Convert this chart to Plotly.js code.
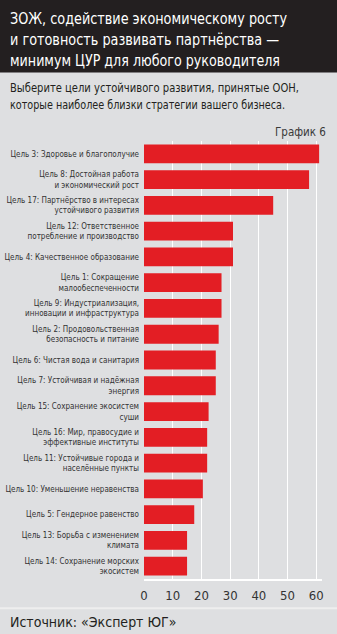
<!DOCTYPE html>
<html>
<head>
<meta charset="utf-8">
<script src="https://cdn.plot.ly/plotly-3.0.1.min.js"></script>
<style>html,body{margin:0;padding:0;background:#dedfe1;}#chart{width:337px;height:634px;}</style>
</head>
<body>
<div id="chart"></div>
<script>
const categories = [
  "Цель 3: Здоровье и благополучие",
  "Цель 8: Достойная работа<br>и экономический рост",
  "Цель 17: Партнёрство в интересах<br>устойчивого развития",
  "Цель 12: Ответственное<br>потребление и производство",
  "Цель 4: Качественное образование",
  "Цель 1: Сокращение<br>малообеспеченности",
  "Цель 9: Индустриализация,<br>инновации и инфраструктура",
  "Цель 2: Продовольственная<br>безопасность и питание",
  "Цель 6: Чистая вода и санитария",
  "Цель 7: Устойчивая и надёжная<br>энергия",
  "Цель 15: Сохранение экосистем<br>суши",
  "Цель 16: Мир, правосудие и<br>эффективные институты",
  "Цель 11: Устойчивые города и<br>населённые пункты",
  "Цель 10: Уменьшение неравенства",
  "Цель 5: Гендерное равенство",
  "Цель 13: Борьба с изменением<br>климата",
  "Цель 14: Сохранение морских<br>экосистем"
];
const values = [61, 57.5, 45, 31, 31, 27, 27, 26, 25, 25, 22.5, 22, 22, 20.5, 17.5, 15, 15];
const xTicks = [0, 10, 20, 30, 40, 50, 60];

const titleLines = [
  "ЗОЖ, содействие экономическому росту",
  "и готовность развивать партнёрства —",
  "минимум ЦУР для любого руководителя"
];
const subtitleLines = [
  "Выберите цели устойчивого развития, принятые ООН,",
  "которые наиболее близки стратегии вашего бизнеса."
];
const chartLabel = "График 6";
const sourceText = "Источник: «Эксперт ЮГ»";

const FONT = "'Liberation Sans Narrow', 'DejaVu Sans Condensed', 'Roboto', sans-serif";
const W = 337, H = 634;
const mL = 144, mR = 15.3, mT = 141.4, mB = 54.7;
const pw = W - mL - mR, ph = H - mT - mB;
const px = x => (x - mL) / pw;
const py = y => (H - mB - y) / ph;

// target widths (px) of the condensed header lines, for horizontal fitting
const titleWidths = [277, 269, 270];
const subtitleWidths = [289, 275];

const annotations = [];
const fitWidths = [];
const titleY = [18.5, 39.5, 60.5];
titleLines.forEach((t, i) => {
  annotations.push({
    text: t, xref: 'paper', yref: 'paper', x: px(8), y: py(titleY[i]),
    xanchor: 'left', yanchor: 'middle', showarrow: false,
    font: {family: FONT, size: 16.5, color: '#ffffff'}
  });
  fitWidths.push(titleWidths[i]);
});
const subY = [88.5, 105];
subtitleLines.forEach((t, i) => {
  annotations.push({
    text: t, xref: 'paper', yref: 'paper', x: px(8), y: py(subY[i]),
    xanchor: 'left', yanchor: 'middle', showarrow: false,
    font: {family: FONT, size: 12.2, color: '#231f20'}
  });
  fitWidths.push(subtitleWidths[i]);
});
annotations.push({
  text: chartLabel, xref: 'paper', yref: 'paper', x: px(328), y: py(132),
  xanchor: 'right', yanchor: 'middle', showarrow: false,
  font: {family: FONT, size: 11.5, color: '#3a3a3a'}
});
annotations.push({
  text: sourceText, xref: 'paper', yref: 'paper', x: px(8), y: py(622),
  xanchor: 'left', yanchor: 'middle', showarrow: false,
  font: {family: FONT, size: 14, color: '#231f20'}
});

const shapes = [
  {type: 'rect', xref: 'paper', yref: 'paper', x0: px(0), x1: px(W), y0: py(0), y1: py(73),
   fillcolor: '#231f20', line: {width: 0}, layer: 'below'},
  {type: 'line', xref: 'paper', yref: 'paper', x0: px(0), x1: px(W), y0: py(608.5), y1: py(608.5),
   line: {color: '#eeeeee', width: 2}}
];

const trace = {
  type: 'bar', orientation: 'h',
  x: values, y: categories,
  marker: {color: '#e31e24', line: {width: 0}},
  hoverinfo: 'none'
};

const layout = {
  width: W, height: H,
  margin: {l: mL, r: mR, t: mT, b: mB, pad: 0},
  paper_bgcolor: '#dedfe1', plot_bgcolor: '#dedfe1',
  showlegend: false,
  bargap: 0.27,
  font: {family: FONT, color: '#333333'},
  xaxis: {
    range: [0, 62], tickvals: xTicks, ticktext: xTicks.map(String),
    showgrid: true, gridcolor: '#ffffff', gridwidth: 1,
    zeroline: false, showline: true, linecolor: '#ffffff', linewidth: 1.5,
    ticks: '', ticklabelstandoff: 4,
    tickfont: {family: FONT, size: 13, color: '#333333'},
    fixedrange: true
  },
  yaxis: {
    type: 'category', autorange: 'reversed',
    showgrid: false, zeroline: false, showline: false, ticks: '',
    ticklabelstandoff: 4,
    tickfont: {family: FONT, size: 8, color: '#333333'},
    fixedrange: true
  },
  shapes: shapes,
  annotations: annotations
};

Plotly.newPlot('chart', [trace], layout, {displayModeBar: false, staticPlot: true}).then(gd => {
  const texts = gd.querySelectorAll('.annotation-text');
  fitWidths.forEach((w, i) => {
    const el = texts[i];
    if (!el) return;
    const cur = el.getComputedTextLength();
    if (cur > w) {
      const shift = (cur - w) / 2;
      const x0 = parseFloat(el.getAttribute('x') || '0');
      el.setAttribute('x', x0 - shift);
      el.setAttribute('textLength', w);
      el.setAttribute('lengthAdjust', 'spacingAndGlyphs');
    }
  });
});
</script>
</body>
</html>
